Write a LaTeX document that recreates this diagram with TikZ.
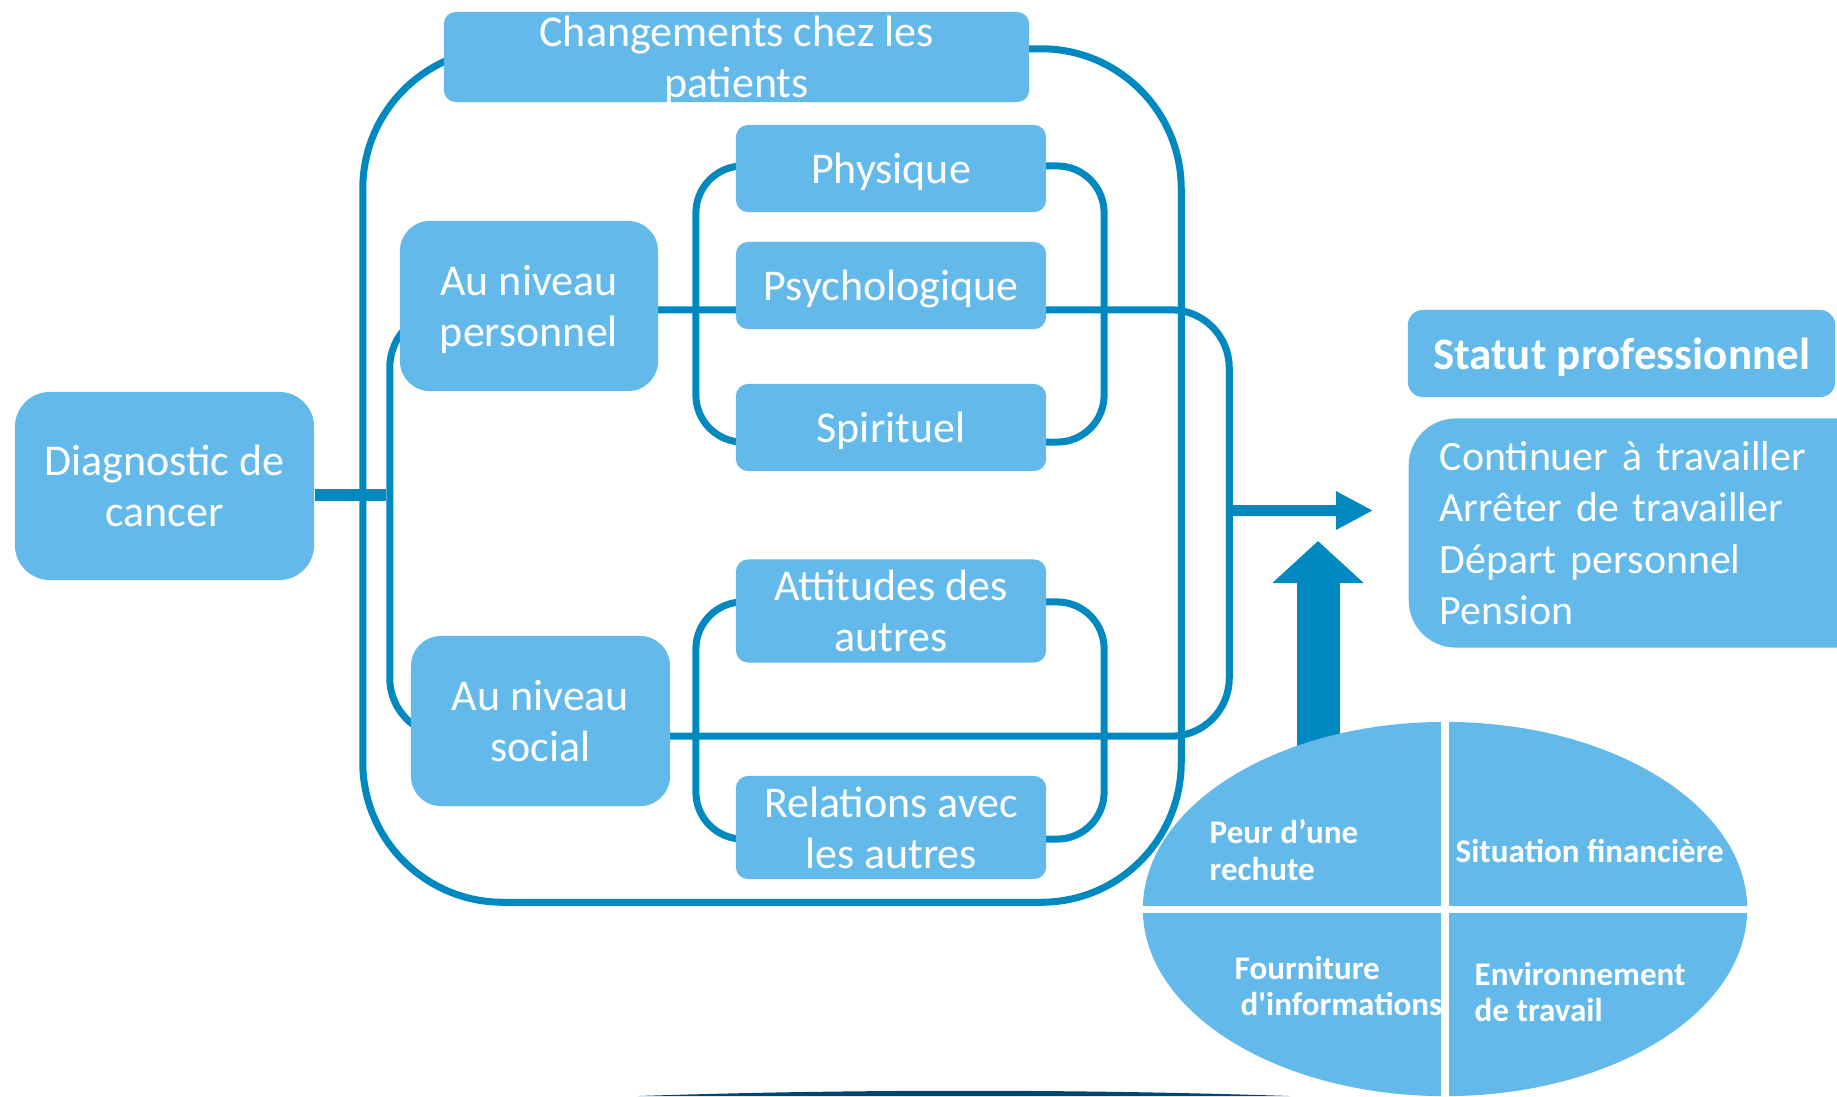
\documentclass[tikz,border=0pt]{standalone}
\usepackage{fontspec}
\setmainfont{Carlito}
\usetikzlibrary{shapes.geometric,arrows.meta}
\definecolor{boxblue}{RGB}{99,185,233}
\definecolor{lineblue}{RGB}{0,136,192}
\definecolor{deepblue}{RGB}{0,70,110}
\begin{document}
\begin{tikzpicture}[x=0.01cm,y=-0.01cm,
  box/.style={fill=boxblue,text=white,align=center,inner sep=0pt,text depth=0pt,font=\fontsize{12.5}{14.6}\selectfont},
  subbox/.style={box,rounded corners=0.12cm,minimum width=3.1cm},
  frame/.style={draw=lineblue,line width=0.07cm,inner sep=0pt},
  pietext/.style={text=white,align=left,anchor=west,inner sep=0pt,font=\fontsize{9.4}{10.4}\selectfont\bfseries}]
\useasboundingbox (0,0) rectangle (1837,1096);
\node (outer) at (772,475.5) [frame,rounded corners=1.4cm,minimum width=8.18cm,minimum height=8.53cm] {};
\node (midframe) at (809.5,523) [frame,rounded corners=0.58cm,minimum width=8.39cm,minimum height=4.26cm] {};
\node (persgroup) at (900,304) [frame,rounded corners=0.47cm,minimum width=4.08cm,minimum height=2.76cm] {};
\node (socgroup) at (900,720.5) [frame,rounded corners=0.47cm,minimum width=4.08cm,minimum height=2.37cm] {};
\node (diag) at (164.5,486) [box,rounded corners=0.35cm,minimum width=2.99cm,minimum height=1.88cm] {Diagnostic de\\cancer};
\draw[lineblue,line width=0.12cm] ([yshift=-0.085cm]diag.east) -- ([yshift=-0.085cm]diag.east -| midframe.west);
\coordinate (arrowend) at (1373,510.5);
\draw[lineblue,line width=0.11cm,-{Triangle[width=0.36cm,length=0.37cm]}] ([yshift=0.125cm]midframe.east) -- (arrowend);
\node (titre) at (736.5,57) [box,rounded corners=0.12cm,minimum width=5.85cm,minimum height=0.9cm] {Changements chez les\\patients};
\node (perso) at (529,306) [box,rounded corners=0.3cm,minimum width=2.58cm,minimum height=1.7cm] {Au niveau\\personnel};
\node (social) at (540.5,721) [box,rounded corners=0.3cm,minimum width=2.59cm,minimum height=1.7cm] {Au niveau\\social};
\foreach \n/\y/\t in {phys/168.5/Physique, psych/285.5/Psychologique, spir/427.5/Spirituel}
    \node (\n) at (891,\y) [subbox,minimum height=0.87cm] {\t};
\foreach \n/\y/\t in {attit/611/Attitudes des\\autres, relat/827.5/Relations avec\\les autres}
    \node (\n) at (891,\y) [subbox,minimum height=1.03cm] {\t};
\node (statut) at (1621.5,353.5) [box,rounded corners=0.15cm,minimum width=4.27cm,minimum height=0.87cm,font=\fontsize{12.8}{15}\selectfont\bfseries] {Statut professionnel};
\node (choix) at (1408,533) [box,anchor=west,rounded corners=0.47cm,minimum height=2.29cm,text width=4.2cm,text depth={},inner xsep=0.31cm,align=left,font=\fontsize{11.9}{14.6}\selectfont] {Continuer à travailler\\Arrêter de travailler\\Départ personnel\\Pension};
\fill[deepblue] (638,1096) .. controls (850,1089) and (1080,1089) .. (1290,1096) -- cycle;
\coordinate (upbase) at (1318,790);
\coordinate (uptip) at (1318,541);
\draw[lineblue,line width=0.43cm,-{Triangle[width=0.89cm,length=0.42cm]}] (upbase) -- (uptip);
\node (pie) at (1445,909) [ellipse,fill=boxblue,minimum width=6.04cm,minimum height=3.74cm,inner sep=0pt] {};
\draw[white,line width=2pt] (pie.west) -- (pie.east);
\draw[white,line width=2.3pt] (pie.north) -- (pie.south);
\node (peur) at (1209,850) [pietext] {Peur d’une\\rechute};
\node (finance) at (1455,851) [pietext] {Situation financière};
\node (fourn) at (1234,986) [pietext] {Fourniture\\\hspace*{0.06cm}d\textquotesingle informations};
\node (envir) at (1474,992) [pietext] {Environnement\\de travail};
\end{tikzpicture}
\end{document}
